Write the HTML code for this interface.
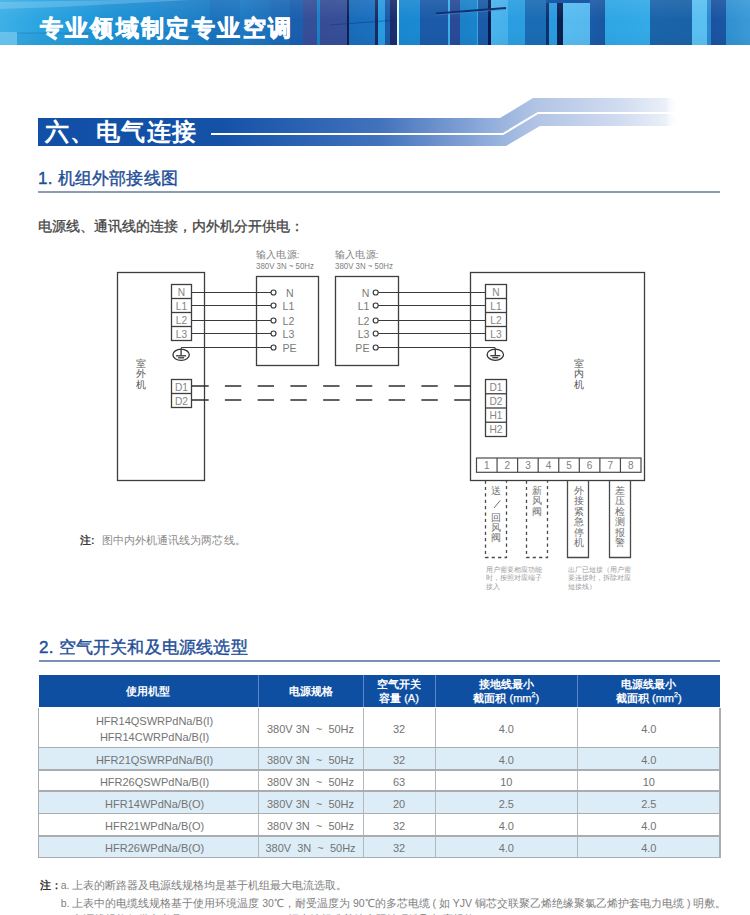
<!DOCTYPE html>
<html><head><meta charset="utf-8">
<style>
*{margin:0;padding:0;box-sizing:border-box}
html,body{width:750px;height:915px;overflow:hidden;background:#fff;font-family:"Liberation Sans",sans-serif}
.abs{position:absolute;white-space:nowrap}
#banner{position:absolute;left:0;top:0;width:750px;height:45px;overflow:hidden;
background:linear-gradient(180deg,rgba(255,255,255,0.08) 0,rgba(255,255,255,0) 20px,rgba(0,0,0,0) 30px,rgba(0,0,0,0.03) 45px),linear-gradient(90deg,#3eb0e6 0px,#2aa4e0 40px,#2aa4e0 40px,#1f96d8 100px,#1f94d6 100px,#1a88cf 160px,#2088cd 160px,#1a7cc4 210px,#1a72bc 210px,#1b74be 240px,#1d7ac4 240px,#1b6fb9 270px,#1b6ab8 270px,#1b68b4 290px,#1a5eae 290px,#1a5eae 303px,#354e98 303px,#354e98 317px,#1a80c8 317px,#1a80c8 320px,#364d96 320px,#344f98 347px,#101e50 347px,#101e50 349px,#1a6cb8 349px,#1a70c0 375px,#1a2a60 375px,#1a2a60 378px,#2a9ae0 378px,#2a9ae0 385px,#1a5aa8 385px,#1a5aa8 390px,#1a2a6a 390px,#1a3070 397.5px,#e6f6ff 397.5px,#e6f6ff 399.5px,#1a88d0 399.5px,#1a8ad2 420px,#1a5aa8 420px,#1a5aa8 448px,#3ab0e8 448px,#3ab0e8 450px,#2a4a98 450px,#2a4a98 460px,#1a80c8 460px,#1a84ca 477px,#3aa8e0 477px,#3aa8e0 478.5px,#1a5aa8 478.5px,#1a5aa8 488px,#0a1a50 488px,#0a1a50 491px,#4ab4ec 491px,#45b0ea 508px,#2a9ee0 508px,#2a9ee0 525px,#1a6cb4 525px,#1a6cb4 546.5px,#10306a 546.5px,#10306a 549px,#2a9ae0 549px,#2a9ae0 557px,#0a2050 557px,#0a2050 563px,#58bcf0 563px,#55b8ee 590px,#1a5ca8 590px,#1a56a2 605px,#2ea6e4 605px,#34aae8 650px,#1a64aa 650px,#1a62a8 692px,#5ac0f0 692px,#5ac0f0 707px,#2a8ad0 707px,#2a8ad0 711px,#1a52a0 711px,#1a56a4 726px,#3090d0 726px,#3a9ad8 750px)}
#banner .t{position:absolute;left:39.5px;top:12.5px;color:#fff;font-weight:bold;font-size:22.5px;letter-spacing:2.4px;-webkit-text-stroke:0.7px #fff}
.sub{position:absolute;color:#1f4f98;font-size:17px;font-weight:400;white-space:nowrap;letter-spacing:0.2px;-webkit-text-stroke:0.4px #1f4f98}
.intro{position:absolute;left:38px;top:218px;font-size:13.5px;color:#444;font-weight:400;white-space:nowrap;-webkit-text-stroke:0.3px #444}
.th{display:flex;align-items:center;justify-content:center;text-align:center;color:#fff;font-weight:bold;font-size:11px;line-height:13.4px;white-space:nowrap;padding-top:1px}
.th b{font-weight:normal;-webkit-text-stroke:0.25px #fff}
.th sup{font-size:7px;vertical-align:baseline;line-height:0;position:relative;top:-4.5px}
.td{display:flex;align-items:center;justify-content:center;text-align:center;color:#737373;font-size:11px;line-height:16px;white-space:nowrap;padding-top:2px}
.note{font-size:10.5px;line-height:18px;color:#808080}
</style></head><body>
<div id="banner"><svg style="position:absolute;left:0;top:0" width="750" height="45">
<line x1="436" y1="13.5" x2="506" y2="8" stroke="#12306e" stroke-width="2"/>
<line x1="436" y1="15" x2="506" y2="9.5" stroke="#3a8ad0" stroke-width="1" opacity="0.6"/>
<line x1="330" y1="25" x2="397" y2="20" stroke="#14306a" stroke-width="1.2" opacity="0.45"/>
<rect x="546" y="0" width="44" height="3" fill="#1a5aa8"/>
<rect x="0" y="32" width="17" height="13" fill="#8ad2f4" opacity="0.55"/>
<rect x="17" y="32.5" width="175" height="1.2" fill="#1a5ca8" opacity="0.35"/>
<rect x="17" y="34" width="175" height="11" fill="#2a80c0" opacity="0.12"/>
<polygon points="0,2 120,0 190,0 60,7 0,9" fill="#bfe8ff" opacity="0.25"/>
</svg><div class="t">专业领域制定专业空调</div></div>

<svg class="abs" style="left:0;top:0" width="750" height="200" viewBox="0 0 750 200">
<defs>
<linearGradient id="hg" x1="38" y1="0" x2="720" y2="0" gradientUnits="userSpaceOnUse">
<stop offset="0" stop-color="#1150a6"/>
<stop offset="0.27" stop-color="#1452a8"/>
<stop offset="0.5" stop-color="#4272bc"/>
<stop offset="0.68" stop-color="#9ab4de"/>
<stop offset="0.73" stop-color="#b2c4e5"/>
<stop offset="0.86" stop-color="#d2ddf0"/>
<stop offset="0.92" stop-color="#ebf0f8"/>
<stop offset="0.94" stop-color="#ffffff" stop-opacity="0"/>
<stop offset="1" stop-color="#ffffff" stop-opacity="0"/>
</linearGradient>
<linearGradient id="lg" x1="38" y1="0" x2="720" y2="0" gradientUnits="userSpaceOnUse">
<stop offset="0" stop-color="#fff"/>
<stop offset="0.8" stop-color="#fff"/>
<stop offset="1" stop-color="#fff" stop-opacity="0"/>
</linearGradient>
</defs>
<path d="M38 118 H500 L533 98 H720 V126 H540 L506 146 H38 Z" fill="url(#hg)"/>
<path d="M211 134 H503 L538 113 H720" fill="none" stroke="#fff" stroke-width="2"/>
<rect x="38" y="191" width="682" height="2" fill="#8c9cb4"/>
</svg>
<div class="abs" style="left:44.5px;top:117px;color:#fff;font-size:24px;line-height:30px;font-weight:bold;letter-spacing:1.6px">六、电气连接</div>
<div class="sub" style="left:38px;top:166.5px">1. 机组外部接线图</div>
<div class="intro">电源线、通讯线的连接，内外机分开供电：</div>

<svg class="abs" style="left:0;top:240px" width="750" height="360" viewBox="0 240 750 360" font-family="Liberation Sans">
<g fill="none" stroke="#3e3e3e" stroke-width="1.3">
<rect x="117.5" y="272.5" width="87" height="208"/>
<rect x="256.5" y="276.5" width="62" height="89"/>
<rect x="335.5" y="276.5" width="63" height="89"/>
<rect x="470.5" y="272.5" width="174" height="208"/>
</g>
<g fill="#fff" stroke="#3e3e3e" stroke-width="1.3">
<rect x="171.5" y="284.5" width="20" height="56"/>
<line x1="171.5" y1="298.5" x2="191.5" y2="298.5"/>
<line x1="171.5" y1="312.5" x2="191.5" y2="312.5"/>
<line x1="171.5" y1="326.5" x2="191.5" y2="326.5"/>
</g><g fill="#858585" font-size="10.2" text-anchor="middle">
<text x="181.5" y="295.5">N</text>
<text x="181.5" y="309.5">L1</text>
<text x="181.5" y="323.5">L2</text>
<text x="181.5" y="337.5">L3</text>
</g>
<g fill="#fff" stroke="#3e3e3e" stroke-width="1.3">
<rect x="171.5" y="379.5" width="20" height="28"/>
<line x1="171.5" y1="393.5" x2="191.5" y2="393.5"/>
</g><g fill="#858585" font-size="10.2" text-anchor="middle">
<text x="181.5" y="390.5">D1</text>
<text x="181.5" y="404.5">D2</text>
</g>
<g fill="#fff" stroke="#3e3e3e" stroke-width="1.3">
<rect x="485.5" y="284.5" width="21" height="56"/>
<line x1="485.5" y1="298.5" x2="506.5" y2="298.5"/>
<line x1="485.5" y1="312.5" x2="506.5" y2="312.5"/>
<line x1="485.5" y1="326.5" x2="506.5" y2="326.5"/>
</g><g fill="#858585" font-size="10.2" text-anchor="middle">
<text x="496" y="295.5">N</text>
<text x="496" y="309.5">L1</text>
<text x="496" y="323.5">L2</text>
<text x="496" y="337.5">L3</text>
</g>
<g fill="#fff" stroke="#3e3e3e" stroke-width="1.3">
<rect x="485.5" y="379.5" width="21" height="57"/>
<line x1="485.5" y1="393.75" x2="506.5" y2="393.75"/>
<line x1="485.5" y1="408" x2="506.5" y2="408"/>
<line x1="485.5" y1="422.25" x2="506.5" y2="422.25"/>
</g><g fill="#858585" font-size="10.2" text-anchor="middle">
<text x="496" y="390.5">D1</text>
<text x="496" y="404.75">D2</text>
<text x="496" y="419">H1</text>
<text x="496" y="433.25">H2</text>
</g>
<g fill="none" stroke="#333" stroke-width="1.3"><ellipse cx="181.1" cy="354.8" rx="8.2" ry="5.6"/><line x1="181.1" y1="348.3" x2="181.1" y2="355.3"/><line x1="176.1" y1="355.8" x2="186.1" y2="355.8"/><line x1="178.1" y1="357.8" x2="184.1" y2="357.8"/></g>
<g fill="none" stroke="#333" stroke-width="1.3"><ellipse cx="495.3" cy="354.7" rx="8.2" ry="5.6"/><line x1="495.3" y1="348.2" x2="495.3" y2="355.2"/><line x1="490.3" y1="355.7" x2="500.3" y2="355.7"/><line x1="492.3" y1="357.7" x2="498.3" y2="357.7"/></g>
<g stroke="#3a3a3a" stroke-width="1.2" fill="none">
<line x1="191.8" y1="292.5" x2="271" y2="292.5"/>
<line x1="378.2" y1="292.5" x2="485.6" y2="292.5"/>
<line x1="191.8" y1="305.5" x2="271" y2="305.5"/>
<line x1="378.2" y1="305.5" x2="485.6" y2="305.5"/>
<line x1="191.8" y1="320.5" x2="271" y2="320.5"/>
<line x1="378.2" y1="320.5" x2="485.6" y2="320.5"/>
<line x1="191.8" y1="333.5" x2="271" y2="333.5"/>
<line x1="378.2" y1="333.5" x2="485.6" y2="333.5"/>
<line x1="181.1" y1="347.5" x2="271" y2="347.5"/>
<line x1="378.2" y1="347.5" x2="495.3" y2="347.5"/>
</g><g fill="#fff" stroke="#3a3a3a" stroke-width="1.2">
<circle cx="273.5" cy="292.5" r="2.5"/>
<circle cx="375.7" cy="292.5" r="2.5"/>
<circle cx="273.5" cy="305.5" r="2.5"/>
<circle cx="375.7" cy="305.5" r="2.5"/>
<circle cx="273.5" cy="320.5" r="2.5"/>
<circle cx="375.7" cy="320.5" r="2.5"/>
<circle cx="273.5" cy="333.5" r="2.5"/>
<circle cx="375.7" cy="333.5" r="2.5"/>
<circle cx="273.5" cy="347.5" r="2.5"/>
<circle cx="375.7" cy="347.5" r="2.5"/>
</g>
<g fill="#7a7a7a" font-size="10.6">
<text x="286" y="296.5">N</text>
<text x="369.5" y="296.5" text-anchor="end">N</text>
<text x="282.5" y="309.5">L1</text>
<text x="369.5" y="309.5" text-anchor="end">L1</text>
<text x="282.5" y="324.5">L2</text>
<text x="369.5" y="324.5" text-anchor="end">L2</text>
<text x="282.5" y="337.5">L3</text>
<text x="369.5" y="337.5" text-anchor="end">L3</text>
<text x="282.5" y="351.5">PE</text>
<text x="369.5" y="351.5" text-anchor="end">PE</text>
</g>
<g fill="#7e7e7e"><text x="256" y="258.3" font-size="9.6" letter-spacing="0.2">输入电源:</text><text x="256" y="268.6" font-size="8.4" textLength="58" lengthAdjust="spacingAndGlyphs">380V 3N ~ 50Hz</text>
<text x="335" y="258.3" font-size="9.6" letter-spacing="0.2">输入电源:</text><text x="335" y="268.6" font-size="8.4" textLength="58" lengthAdjust="spacingAndGlyphs">380V 3N ~ 50Hz</text></g>
<g stroke="#2e2e2e" stroke-width="1.5">
<line x1="191.8" y1="386" x2="208.7" y2="386"/>
<line x1="224.9" y1="386" x2="241.3" y2="386"/>
<line x1="257.65" y1="386" x2="274.05" y2="386"/>
<line x1="290.4" y1="386" x2="306.8" y2="386"/>
<line x1="323.15" y1="386" x2="339.55" y2="386"/>
<line x1="355.9" y1="386" x2="372.3" y2="386"/>
<line x1="388.65" y1="386" x2="405.05" y2="386"/>
<line x1="421.4" y1="386" x2="437.8" y2="386"/>
<line x1="454.2" y1="386" x2="470.5" y2="386"/>
<line x1="191.8" y1="400" x2="208.7" y2="400"/>
<line x1="224.9" y1="400" x2="241.3" y2="400"/>
<line x1="257.65" y1="400" x2="274.05" y2="400"/>
<line x1="290.4" y1="400" x2="306.8" y2="400"/>
<line x1="323.15" y1="400" x2="339.55" y2="400"/>
<line x1="355.9" y1="400" x2="372.3" y2="400"/>
<line x1="388.65" y1="400" x2="405.05" y2="400"/>
<line x1="421.4" y1="400" x2="437.8" y2="400"/>
<line x1="454.2" y1="400" x2="470.5" y2="400"/>
</g>
<g fill="#555" font-size="10" text-anchor="middle">
<text x="140.5" y="367">室</text>
<text x="140.5" y="377.3">外</text>
<text x="140.5" y="387.6">机</text>
</g>
<g fill="#555" font-size="10" text-anchor="middle">
<text x="579" y="367">室</text>
<text x="579" y="377.3">内</text>
<text x="579" y="387.6">机</text>
</g>
<g fill="#fff" stroke="#4a4a4a" stroke-width="1.2"><rect x="476.5" y="458" width="164.5" height="14.3"/>
<line x1="497.06" y1="458" x2="497.06" y2="472.3"/>
<line x1="517.62" y1="458" x2="517.62" y2="472.3"/>
<line x1="538.19" y1="458" x2="538.19" y2="472.3"/>
<line x1="558.75" y1="458" x2="558.75" y2="472.3"/>
<line x1="579.31" y1="458" x2="579.31" y2="472.3"/>
<line x1="599.88" y1="458" x2="599.88" y2="472.3"/>
<line x1="620.44" y1="458" x2="620.44" y2="472.3"/>
</g><g fill="#808080" font-size="10" text-anchor="middle">
<text x="486.78" y="469">1</text>
<text x="507.34" y="469">2</text>
<text x="527.91" y="469">3</text>
<text x="548.47" y="469">4</text>
<text x="569.03" y="469">5</text>
<text x="589.59" y="469">6</text>
<text x="610.16" y="469">7</text>
<text x="630.72" y="469">8</text>
</g>
<g fill="none" stroke="#4a4a4a" stroke-width="1.3">
<path d="M485.5 480.5 V557.5 H506.5 V480.5" stroke-dasharray="3.2 3.2"/>
<path d="M526.5 480.5 V557.5 H547.5 V480.5" stroke-dasharray="3.2 3.2"/>
<path d="M567.5 480.5 V557.5 H588.5 V480.5"/>
<path d="M609.5 480.5 V557.5 H630.5 V480.5"/>
</g>
<g fill="#707070" font-size="10" text-anchor="middle"><text x="496.2" y="494">送</text><text x="496.2" y="521.4">回</text><text x="496.2" y="531">风</text><text x="496.2" y="540.6">阀</text></g>
<line x1="500.3" y1="500.4" x2="494" y2="508" stroke="#707070" stroke-width="1"/>
<g fill="#707070" font-size="10" text-anchor="middle">
<text x="537.4" y="494">新</text>
<text x="537.4" y="504.4">风</text>
<text x="537.4" y="514.8">阀</text>
</g>
<g fill="#707070" font-size="10" text-anchor="middle">
<text x="578.6" y="494">外</text>
<text x="578.6" y="504.45">接</text>
<text x="578.6" y="514.9">紧</text>
<text x="578.6" y="525.35">急</text>
<text x="578.6" y="535.8">停</text>
<text x="578.6" y="546.25">机</text>
</g>
<g fill="#707070" font-size="10" text-anchor="middle">
<text x="620.4" y="494">差</text>
<text x="620.4" y="504.45">压</text>
<text x="620.4" y="514.9">检</text>
<text x="620.4" y="525.35">测</text>
<text x="620.4" y="535.8">报</text>
<text x="620.4" y="546.25">警</text>
</g>
<g fill="#9a9a9a" font-size="7">
<text x="485.6" y="572.2">用户需要相应功能</text>
<text x="485.6" y="580.4">时，按照对应端子</text>
<text x="485.6" y="588.6">接入</text>
<text x="567.8" y="572.2">出厂已短接（用户需</text>
<text x="567.8" y="580.4">要连接时，拆除对应</text>
<text x="567.8" y="588.6">短接线）</text>
</g>
<text x="80" y="543.6" font-size="10.5" font-weight="bold" fill="#3a3a3a">注:</text>
<text x="102" y="543.6" font-size="10.5" letter-spacing="0.05" fill="#8a8a8a">图中内外机通讯线为两芯线。</text>
</svg>

<div class="sub" style="left:39px;top:636px">2. 空气开关和及电源线选型</div>
<div class="abs" style="left:38.5px;top:660px;width:681.5px;height:1.6px;background:#7890b8"></div>

<div class="abs" style="left:38.8px;top:674.7px;width:681.2px;height:32.8px;background:#0f4fa2"></div>
<div class="abs" style="left:38.8px;top:747.5px;width:681.2px;height:22.3px;background:#dcedf7"></div>
<div class="abs" style="left:38.8px;top:791.2px;width:681.2px;height:22.4px;background:#dcedf7"></div>
<div class="abs" style="left:38.8px;top:836px;width:681.2px;height:21.4px;background:#dcedf7"></div>
<div class="abs" style="left:257.5px;top:674.7px;width:1px;height:32.8px;background:#5d87c8"></div>
<div class="abs" style="left:257.5px;top:707.5px;width:1px;height:149.9px;background:#b4b8ba"></div>
<div class="abs" style="left:362.5px;top:674.7px;width:1px;height:32.8px;background:#5d87c8"></div>
<div class="abs" style="left:362.5px;top:707.5px;width:1px;height:149.9px;background:#b4b8ba"></div>
<div class="abs" style="left:434.5px;top:674.7px;width:1px;height:32.8px;background:#5d87c8"></div>
<div class="abs" style="left:434.5px;top:707.5px;width:1px;height:149.9px;background:#b4b8ba"></div>
<div class="abs" style="left:577.1px;top:674.7px;width:1px;height:32.8px;background:#5d87c8"></div>
<div class="abs" style="left:577.1px;top:707.5px;width:1px;height:149.9px;background:#b4b8ba"></div>
<div class="abs" style="left:38.2px;top:707.5px;width:1.3px;height:150.6px;background:#a9adaf"></div>
<div class="abs" style="left:719.4px;top:707.5px;width:1.3px;height:150.6px;background:#a9adaf"></div>
<div class="abs" style="left:38.2px;top:746.75px;width:682.4px;height:1.5px;background:#a9adaf"></div>
<div class="abs" style="left:38.2px;top:769.05px;width:682.4px;height:1.5px;background:#a9adaf"></div>
<div class="abs" style="left:38.2px;top:790.45px;width:682.4px;height:1.5px;background:#a9adaf"></div>
<div class="abs" style="left:38.2px;top:812.85px;width:682.4px;height:1.5px;background:#a9adaf"></div>
<div class="abs" style="left:38.2px;top:835.25px;width:682.4px;height:1.5px;background:#a9adaf"></div>
<div class="abs" style="left:38.2px;top:856.65px;width:682.4px;height:1.5px;background:#a9adaf"></div>
<div class="th abs" style="left:38.8px;top:674.7px;width:219.2px;height:32.8px"><span>使用机型</span></div>
<div class="th abs" style="left:258px;top:674.7px;width:105px;height:32.8px"><span>电源规格</span></div>
<div class="th abs" style="left:363px;top:674.7px;width:72px;height:32.8px"><span>空气开关<br>容量 <b>(A)</b></span></div>
<div class="th abs" style="left:435px;top:674.7px;width:142.6px;height:32.8px"><span>接地线最小<br>截面积 <b>(mm<sup>2</sup>)</b></span></div>
<div class="th abs" style="left:577.6px;top:674.7px;width:142.4px;height:32.8px"><span>电源线最小<br>截面积 <b>(mm<sup>2</sup>)</b></span></div>
<div class="td abs" style="left:45px;top:708px;width:219.2px;height:40px"><span>HFR14QSWRPdNa/B(I)<br>HFR14CWRPdNa/B(I)</span></div>
<div class="td abs" style="left:258px;top:708px;width:105px;height:40px"><span>380V 3N&nbsp; ~&nbsp; 50Hz</span></div>
<div class="td abs" style="left:363px;top:708px;width:72px;height:40px"><span>32</span></div>
<div class="td abs" style="left:435px;top:708px;width:142.6px;height:40px"><span>4.0</span></div>
<div class="td abs" style="left:577.6px;top:708px;width:142.4px;height:40px"><span>4.0</span></div>
<div class="td abs" style="left:45px;top:748px;width:219.2px;height:22.3px"><span>HFR21QSWRPdNa/B(I)</span></div>
<div class="td abs" style="left:258px;top:748px;width:105px;height:22.3px"><span>380V 3N&nbsp; ~&nbsp; 50Hz</span></div>
<div class="td abs" style="left:363px;top:748px;width:72px;height:22.3px"><span>32</span></div>
<div class="td abs" style="left:435px;top:748px;width:142.6px;height:22.3px"><span>4.0</span></div>
<div class="td abs" style="left:577.6px;top:748px;width:142.4px;height:22.3px"><span>4.0</span></div>
<div class="td abs" style="left:45px;top:770.3px;width:219.2px;height:21.4px"><span>HFR26QSWPdNa/B(I)</span></div>
<div class="td abs" style="left:258px;top:770.3px;width:105px;height:21.4px"><span>380V 3N&nbsp; ~&nbsp; 50Hz</span></div>
<div class="td abs" style="left:363px;top:770.3px;width:72px;height:21.4px"><span>63</span></div>
<div class="td abs" style="left:435px;top:770.3px;width:142.6px;height:21.4px"><span>10</span></div>
<div class="td abs" style="left:577.6px;top:770.3px;width:142.4px;height:21.4px"><span>10</span></div>
<div class="td abs" style="left:45px;top:791.7px;width:219.2px;height:22.4px"><span>HFR14WPdNa/B(O)</span></div>
<div class="td abs" style="left:258px;top:791.7px;width:105px;height:22.4px"><span>380V 3N&nbsp; ~&nbsp; 50Hz</span></div>
<div class="td abs" style="left:363px;top:791.7px;width:72px;height:22.4px"><span>20</span></div>
<div class="td abs" style="left:435px;top:791.7px;width:142.6px;height:22.4px"><span>2.5</span></div>
<div class="td abs" style="left:577.6px;top:791.7px;width:142.4px;height:22.4px"><span>2.5</span></div>
<div class="td abs" style="left:45px;top:814.1px;width:219.2px;height:22.4px"><span>HFR21WPdNa/B(O)</span></div>
<div class="td abs" style="left:258px;top:814.1px;width:105px;height:22.4px"><span>380V 3N&nbsp; ~&nbsp; 50Hz</span></div>
<div class="td abs" style="left:363px;top:814.1px;width:72px;height:22.4px"><span>32</span></div>
<div class="td abs" style="left:435px;top:814.1px;width:142.6px;height:22.4px"><span>4.0</span></div>
<div class="td abs" style="left:577.6px;top:814.1px;width:142.4px;height:22.4px"><span>4.0</span></div>
<div class="td abs" style="left:45px;top:836.5px;width:219.2px;height:21.4px"><span>HFR26WPdNa/B(O)</span></div>
<div class="td abs" style="left:258px;top:836.5px;width:105px;height:21.4px"><span>380V&nbsp; 3N&nbsp; ~&nbsp; 50Hz</span></div>
<div class="td abs" style="left:363px;top:836.5px;width:72px;height:21.4px"><span>32</span></div>
<div class="td abs" style="left:435px;top:836.5px;width:142.6px;height:21.4px"><span>4.0</span></div>
<div class="td abs" style="left:577.6px;top:836.5px;width:142.4px;height:21.4px"><span>4.0</span></div>
<div class="abs" style="left:39.5px;top:876px;font-size:10.5px;line-height:18px;color:#333;font-weight:bold">注：</div>
<div class="abs note" style="left:60.7px;top:876px">a. 上表的断路器及电源线规格均是基于机组最大电流选取。</div>
<div class="abs note" style="left:60.7px;top:894px">b. 上表中的电缆线规格基于使用环境温度 30℃，耐受温度为 90℃的多芯电缆 ( 如 YJV 铜芯交联聚乙烯绝缘聚氯乙烯护套电力电缆 ) 明敷。</div>
<div class="abs note" style="left:60.7px;top:909.8px">c. 电源线规格仅供参考具</div>
<div class="abs note" style="left:288px;top:909.8px">据当地标准并按实际情况选取相应规格</div>
</body></html>
